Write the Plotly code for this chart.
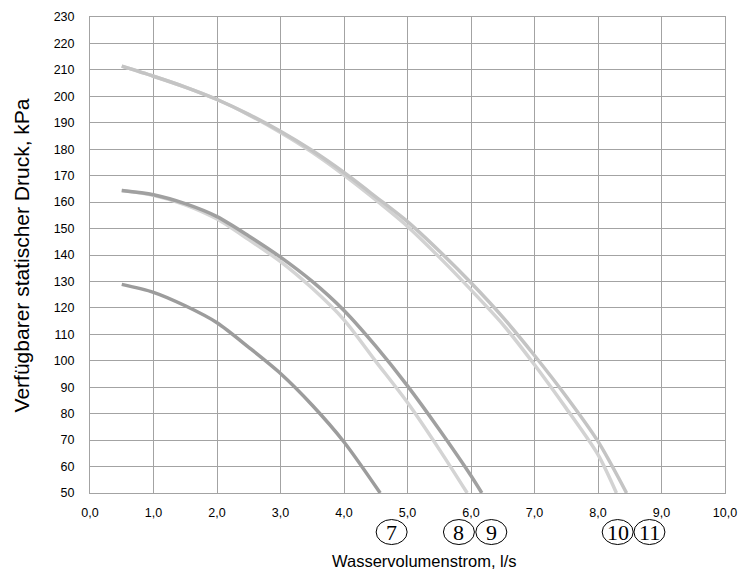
import plotly.graph_objects as go

# Pump curves: available static pressure (kPa) over water flow (l/s)
flow_7 = [0.5, 1.0, 1.5, 2.0, 2.5, 3.0, 3.5, 4.0, 4.57]
pres_7 = [128.9, 125.9, 120.8, 114.4, 105.1, 95.2, 83.2, 69.3, 50.0]

flow_8 = [0.5, 1.0, 1.5, 2.0, 2.5, 3.0, 3.5, 4.0, 4.5, 5.0, 5.5, 5.94]
pres_8 = [164.4, 162.6, 159.0, 153.6, 145.8, 137.5, 127.4, 115.5, 99.8, 84.2, 66.5, 50.0]

flow_9 = [0.5, 1.0, 1.5, 2.0, 2.5, 3.0, 3.5, 4.0, 4.5, 5.0, 5.5, 6.0, 6.17]
pres_9 = [164.4, 162.8, 159.4, 154.5, 147.2, 139.2, 130.0, 119.0, 105.5, 90.5, 74.0, 56.5, 50.0]

flow_10 = [0.5, 1.0, 1.5, 2.0, 2.5, 3.0, 3.5, 4.0, 4.5, 5.0, 5.5, 6.0, 6.5, 7.0, 7.5, 8.0, 8.29]
pres_10 = [211.4, 207.6, 203.5, 198.8, 193.0, 186.3, 178.8, 170.2, 160.8, 150.8, 139.2, 126.8,
           113.8, 98.5, 82.0, 64.5, 50.0]

flow_11 = [0.5, 1.0, 1.5, 2.0, 2.5, 3.0, 3.5, 4.0, 4.5, 5.0, 5.5, 6.0, 6.5, 7.0, 7.5, 8.0, 8.45]
pres_11 = [211.4, 207.6, 203.5, 198.8, 193.2, 186.8, 179.5, 171.2, 162.0, 152.6, 141.5, 129.5,
           116.5, 102.0, 86.5, 69.5, 50.0]

x_ticks = [0, 1, 2, 3, 4, 5, 6, 7, 8, 9, 10]
x_tick_text = ["0,0", "1,0", "2,0", "3,0", "4,0", "5,0", "6,0", "7,0", "8,0", "9,0", "10,0"]
y_ticks = list(range(50, 231, 10))

curve_labels = ["7", "8", "9", "10", "11"]
label_flow = [4.75, 5.81, 6.32, 8.31, 8.81]

X_MIN, X_MAX = 0, 10
Y_MIN, Y_MAX = 50, 230

series = [
    (flow_7, pres_7, "#9c9c9c"),
    (flow_8, pres_8, "#d4d4d4"),
    (flow_9, pres_9, "#a0a0a0"),
    (flow_10, pres_10, "#d2d2d2"),
    (flow_11, pres_11, "#c4c4c4"),
]

fig = go.Figure()
for name, (fx, py, col) in zip(curve_labels, series):
    fig.add_trace(go.Scatter(
        x=fx, y=py, mode="lines", name=name,
        line=dict(color=col, width=3.5, shape="spline", smoothing=0.8),
        showlegend=False, hoverinfo="skip",
    ))

GRID = "#a3a3a3"
FONT = "Liberation Sans, Arial, sans-serif"

fig.update_xaxes(
    range=[X_MIN, X_MAX], tickvals=x_ticks, ticktext=x_tick_text,
    showgrid=True, gridcolor=GRID, gridwidth=1,
    showline=True, linecolor=GRID, linewidth=1, mirror=True,
    zeroline=False, ticks="", ticklabelstandoff=8, automargin=False,
    tickfont=dict(family=FONT, size=12.5, color="#000"),
)
fig.update_yaxes(
    range=[Y_MIN, Y_MAX], tickvals=y_ticks,
    showgrid=True, gridcolor=GRID, gridwidth=1,
    showline=True, linecolor=GRID, linewidth=1, mirror=True,
    zeroline=False, ticks="", ticklabelstandoff=12, automargin=False,
    tickfont=dict(family=FONT, size=12.5, color="#000"),
)

annotations = [
    dict(text="Wasservolumenstrom, l/s", xref="paper", yref="paper",
         x=0.527, y=-0.142, xanchor="center", yanchor="middle",
         showarrow=False, font=dict(family=FONT, size=16.5, color="#000")),
    dict(text="Verfügbarer statischer Druck, kPa", xref="paper", yref="paper",
         x=-0.108, y=0.5, xanchor="center", yanchor="middle", textangle=-90,
         showarrow=False, font=dict(family=FONT, size=21, color="#000")),
]
shapes = []
LABEL_Y = -0.082
for lab, fx in zip(curve_labels, label_flow):
    px = (fx - X_MIN) / (X_MAX - X_MIN)
    annotations.append(dict(
        text=lab, xref="paper", yref="paper", x=px, y=LABEL_Y,
        xanchor="center", yanchor="middle", showarrow=False,
        font=dict(family="Liberation Serif, Times New Roman, serif", size=22, color="#000"),
    ))
    shapes.append(dict(
        type="circle", xref="paper", yref="paper",
        xsizemode="pixel", ysizemode="pixel",
        xanchor=px, yanchor=LABEL_Y,
        x0=-15.5, x1=15.5, y0=-12.5, y1=12.5,
        line=dict(color="#000", width=1),
    ))

fig.update_layout(
    width=740, height=573,
    margin=dict(l=90, r=15, t=17, b=80),
    paper_bgcolor="#fff", plot_bgcolor="#fff",
    annotations=annotations, shapes=shapes,
)

fig.write_html("out.html")
